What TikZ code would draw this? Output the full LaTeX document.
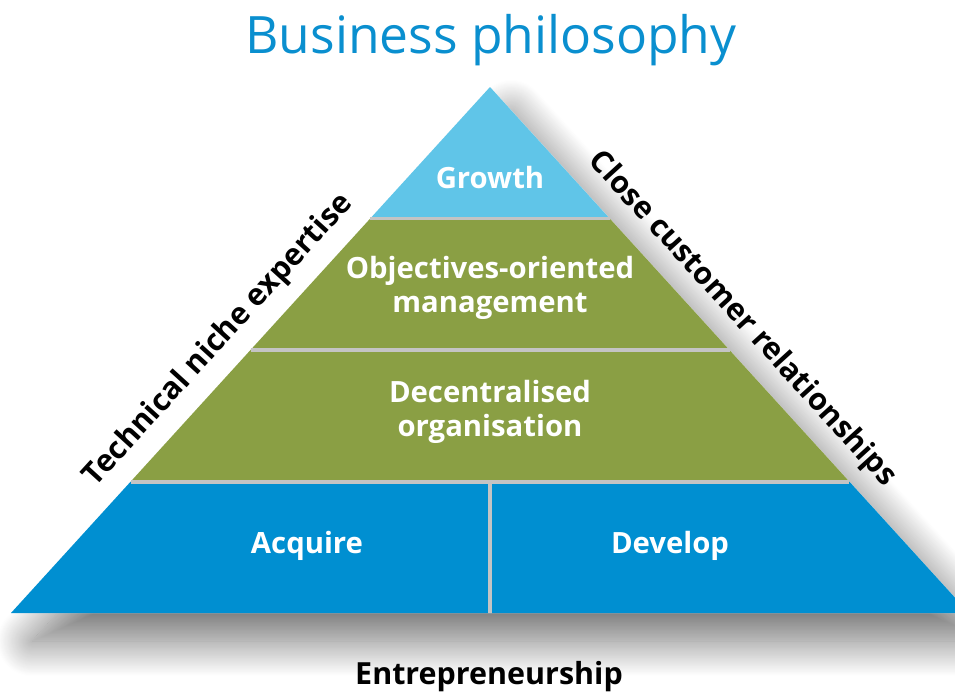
\documentclass[tikz,border=0pt]{standalone}
\usepackage{fontspec}
\setmainfont{Open Sans}
\usetikzlibrary{calc,shadows.blur}
\definecolor{topblue}{HTML}{60C5E8}
\definecolor{midgreen}{HTML}{8A9F44}
\definecolor{baseblue}{HTML}{008FD1}
\definecolor{titleblue}{HTML}{0A8FCF}
\definecolor{gapgray}{HTML}{C4C4C4}
\tikzset{
  tier/.style={text=white, align=center, font=\bfseries\fontsize{25}{29}\selectfont},
  side/.style={sloped, above=9pt, font=\bfseries\fontsize{26}{30}\selectfont},
  gap/.style={gapgray, line width=3.4pt},
}
\begin{document}
\begin{tikzpicture}[x=0.03cm, y=-0.03cm]
            \useasboundingbox (0,0) rectangle (955,691);
            \clip (0,0) rectangle (955,691);

            \coordinate (A) at (490,87);
            \coordinate (B) at (11,613);
            \coordinate (C) at (969,613);
            \coordinate (L1) at ($(A)!0.25!(B)$);
            \coordinate (R1) at ($(A)!0.25!(C)$);
            \coordinate (L2) at ($(A)!0.5!(B)$);
            \coordinate (R2) at ($(A)!0.5!(C)$);
            \coordinate (L3) at ($(A)!0.75!(B)$);
            \coordinate (R3) at ($(A)!0.75!(C)$);
            \coordinate (M) at ($(L3)!0.5!(R3)$);
            \coordinate (N) at ($(B)!0.5!(C)$);

            \fill[white, blur shadow={shadow xshift=18pt, shadow yshift=-24pt, shadow blur radius=30pt, shadow blur steps=40, shadow opacity=55}] (A) -- (B) -- (C) -- cycle;
            \fill[topblue] (A) -- (L1) -- (R1) -- cycle;
            \fill[midgreen] (L1) -- (L3) -- (R3) -- (R1) -- cycle;
            \fill[baseblue] (L3) -- (B) -- (C) -- (R3) -- cycle;
            \draw[gap] (L1) -- (R1);
            \draw[gap] (L2) -- (R2);
            \draw[gap] (L3) -- (R3);
            \draw[gap] (M) -- (N);

            \node[tier] (G) at (490,178) {Growth};
            \node[tier] (O) at (490,288) {Objectives-oriented\\management};
            \node[tier] (D) at (490,412) {Decentralised\\organisation};
            \node[tier] (Q) at (307,546) {Acquire};
            \node[tier] (V) at (670,546) {Develop};

            \path (B) -- node[side, pos=0.48] (T) {Technical niche expertise} (A);
            \path (A) -- node[side, pos=0.48] (K) {Close customer relationships} (C);

            \node[anchor=base, text=titleblue, font=\fontsize{44}{50}\selectfont] (P) at (491,53) {Business philosophy};
            \node[anchor=base, font=\bfseries\fontsize{26}{30}\selectfont] (E) at (489,684) {Entrepreneurship};
          \end{tikzpicture}
\end{document}
